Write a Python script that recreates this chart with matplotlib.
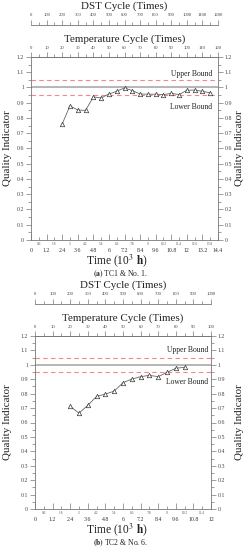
import numpy as np
import matplotlib
matplotlib.use("Agg")
import matplotlib.pyplot as plt
from matplotlib.ticker import MultipleLocator, FuncFormatter

plt.rcParams["font.family"] = ["Liberation Serif", "DejaVu Serif"]
plt.rcParams["mathtext.fontset"] = "stix"

# --------------------------------------------------
# Data (temperature cycles -> quality indicator)
# --------------------------------------------------

# (a) TC1 & No. 1
cycles_a = [20, 25, 30, 35, 40, 45, 50, 55, 60, 65,
            70, 75, 80, 85, 90, 95, 100, 105, 110, 115]
quality_a = [0.760, 0.880, 0.852, 0.850, 0.938, 0.932, 0.957, 0.975, 0.997, 0.980,
             0.957, 0.956, 0.956, 0.953, 0.962, 0.953, 0.982, 0.983, 0.975, 0.965]

# (b) TC2 & No. 6
cycles_b = [20, 25, 30, 35, 40, 45, 50, 55, 60, 65, 70, 75, 80, 85]
quality_b = [0.712, 0.665, 0.719, 0.781, 0.797, 0.818, 0.876, 0.901, 0.918, 0.927,
             0.918, 0.948, 0.976, 0.983]

HOURS_PER_CYCLE = 0.12   # 10^3 h per temperature cycle
DST_PER_CYCLE = 10       # DST cycles per temperature cycle

UPPER, TARGET, LOWER = 1.05, 1.0, 0.95

panels = [
    dict(cycles=cycles_a, quality=quality_a, tmax=120, caption="(a)", tail=" TC1 & No. 1.",
         box=(31, 57, 218, 240), lab_right=0.968, up_y=1.09, lo_y=0.87),
    dict(cycles=cycles_b, quality=quality_b, tmax=100, caption="(b)", tail=" TC2 & No. 6.",
         box=(35, 336, 211, 509), lab_right=0.983, up_y=1.10, lo_y=0.883),
]

W, H = 248, 550
GRAY = "#777777"
TXT = "#222222"

fig = plt.figure(figsize=(W / 100, H / 100), dpi=100)


def fmt(v, _=None):
    return f"{round(v, 2):g}"


for p in panels:
    x0, y0, x1, y1 = p["box"]
    ax = fig.add_axes([x0 / W, 1 - y1 / H, (x1 - x0) / W, (y1 - y0) / H])

    time = np.array(p["cycles"]) * HOURS_PER_CYCLE
    tmax_h = p["tmax"] * HOURS_PER_CYCLE

    ax.axhline(TARGET, color="#b0b0b0", lw=1.3, zorder=1)
    ax.axhline(UPPER, color="#f08a8a", lw=0.8, ls=(0, (4, 3)), zorder=1)
    ax.axhline(LOWER, color="#f08a8a", lw=0.8, ls=(0, (4, 3)), zorder=1)
    ax.plot(time, p["quality"], color="#666666", lw=0.6, marker="^", ms=3.2,
            mfc="white", mec="#333333", mew=0.5, zorder=3)

    ax.set_xlim(0, tmax_h)
    ax.set_ylim(0, 1.2)

    ax.text(p["lab_right"], p["up_y"] / 1.2, "Upper Bound", transform=ax.transAxes,
            ha="right", va="center", fontsize=5.5, color=TXT)
    ax.text(p["lab_right"], p["lo_y"] / 1.2, "Lower Bound", transform=ax.transAxes,
            ha="right", va="center", fontsize=5.5, color=TXT)

    for s in ax.spines.values():
        s.set_color(GRAY)
        s.set_linewidth(0.6)

    # y axis, both sides
    ax.yaxis.set_major_locator(MultipleLocator(0.1))
    ax.yaxis.set_minor_locator(MultipleLocator(0.05))
    ax.yaxis.set_major_formatter(FuncFormatter(fmt))
    ax.tick_params(axis="y", which="both", left=True, right=True, labelright=True,
                   direction="out", color=GRAY, labelsize=4.2, labelcolor="#444444",
                   width=0.5, pad=1.5)
    ax.tick_params(axis="y", which="major", length=3.5)
    ax.tick_params(axis="y", which="minor", length=2)

    # bottom time axis: major every 1.2, minor labels in between
    ax.xaxis.set_major_locator(MultipleLocator(1.2))
    ax.xaxis.set_minor_locator(MultipleLocator(0.6))
    ax.xaxis.set_major_formatter(FuncFormatter(fmt))
    ax.xaxis.set_minor_formatter(FuncFormatter(
        lambda v, _: "" if abs(v / 1.2 - round(v / 1.2)) < 1e-6 else fmt(v)))
    ax.tick_params(axis="x", which="major", direction="in", length=4, width=0.5,
                   color=GRAY, labelsize=4.2, labelcolor="#333333", pad=6)
    ax.tick_params(axis="x", which="minor", direction="in", length=2, width=0.5,
                   color=GRAY, labelsize=2.6, labelcolor="#555555", pad=1.5)

    # temperature cycle axis on top
    tax = ax.secondary_xaxis("top", functions=(lambda t: t / HOURS_PER_CYCLE,
                                               lambda c: c * HOURS_PER_CYCLE))
    tax.xaxis.set_major_locator(MultipleLocator(10))
    tax.xaxis.set_minor_locator(MultipleLocator(5))
    tax.tick_params(which="major", direction="out", length=3.5, width=0.5, color=GRAY,
                    labelsize=3.4, labelcolor="#444444", pad=1.5)
    tax.tick_params(which="minor", direction="out", length=2, width=0.5, color=GRAY)
    tax.spines["top"].set_color(GRAY)
    tax.spines["top"].set_linewidth(0.6)

    # DST cycle axis floating above
    off = 1 + 31.5 / (y1 - y0)
    dax = ax.secondary_xaxis(off, functions=(lambda t: t / HOURS_PER_CYCLE * DST_PER_CYCLE,
                                             lambda d: d / DST_PER_CYCLE * HOURS_PER_CYCLE))
    dax.xaxis.set_major_locator(MultipleLocator(100))
    dax.xaxis.set_minor_locator(MultipleLocator(50))
    dax.tick_params(which="major", direction="out", length=3.5, width=0.5, color=GRAY,
                    labelsize=3.4, labelcolor="#444444", pad=2.5)
    dax.tick_params(which="minor", direction="out", length=2, width=0.5, color=GRAY)
    for s in dax.spines.values():
        s.set_color(GRAY)
        s.set_linewidth(0.6)

    # titles and labels
    cx = (x0 + x1) / 2 / W
    fig.text(cx, 1 - (y0 - 50.5) / H, "DST Cycle (Times)", ha="center", va="center",
             fontsize=7.9, color=TXT)
    fig.text(cx, 1 - (y0 - 18) / H, "Temperature Cycle (Times)", ha="center",
             va="center", fontsize=7.9, color=TXT)
    fig.text(117 / W, 1 - (y1 + 21) / H, r"Time (10$^{3}$ $\mathbf{h}$)", ha="center",
             va="center", fontsize=8.3, color=TXT)
    fig.text(120 / W, 1 - (y1 + 34) / H, r"$\mathbf{" + p["caption"] + "}$" + p["tail"],
             ha="center", va="center", fontsize=5.5, color=TXT)
    ymid = 1 - (y0 + y1) / 2 / H
    fig.text(8 / W, ymid, "Quality Indicator", rotation=90, ha="center", va="center",
             fontsize=7.9, color=TXT)
    fig.text(240 / W, ymid, "Quality Indicator", rotation=90, ha="center", va="center",
             fontsize=7.9, color=TXT)

fig.savefig("out.png", dpi=100)
